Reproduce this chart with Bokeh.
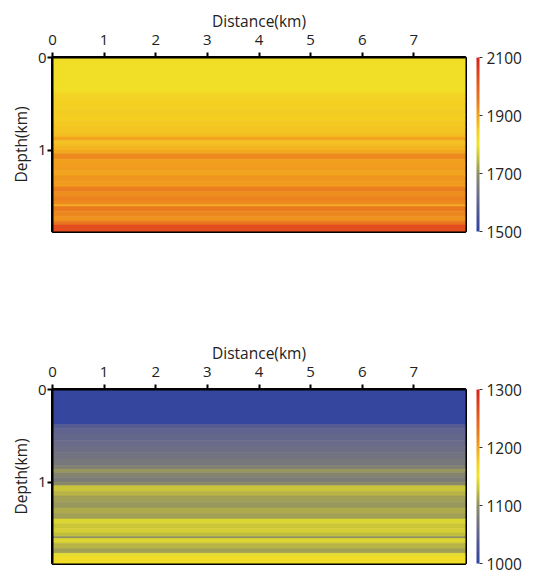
from bokeh.plotting import figure
from bokeh.models import Range1d, LinearColorMapper, ColorBar, FixedTicker, ColumnDataSource
from bokeh.layouts import column
from bokeh.transform import linear_cmap
from bokeh.embed import file_html
from bokeh.resources import INLINE

# ---- data ----
distance_extent_km = [0.0, 8.0]
max_depth_km = 1.88

layer_top_km = [0.00, 0.38, 0.42, 0.48, 0.55, 0.62, 0.68, 0.75, 0.82, 0.86, 0.90,
                0.95, 1.00, 1.04, 1.10, 1.15, 1.22, 1.28, 1.34, 1.40, 1.45,
                1.50, 1.55, 1.59, 1.61, 1.66, 1.72, 1.77, 1.81]

vel_top = [1815, 1835, 1840, 1845, 1850, 1848, 1855, 1860, 1870, 1900, 1865,
           1880, 1895, 1930, 1905, 1910, 1900, 1915, 1910, 1945, 1925,
           1940, 1930, 1890, 1950, 1935, 1920, 1960, 2030]

vel_bottom = [1005, 1040, 1050, 1055, 1060, 1065, 1070, 1075, 1085, 1105, 1090,
              1080, 1095, 1130, 1120, 1110, 1105, 1115, 1110, 1140, 1130,
              1135, 1125, 1100, 1140, 1120, 1110, 1145, 1160]

x_ticks = [0, 1, 2, 3, 4, 5, 6, 7]
y_ticks = [0, 1]
cbar_top_ticks = [1500, 1700, 1900, 2100]
cbar_bottom_ticks = [1000, 1100, 1200, 1300]
range_top = (1500, 2100)
range_bottom = (1000, 1300)

# ---- colormap (blue -> gray -> yellow -> orange -> red) ----
anchors = [(0.00, "#3043a0"), (0.10, "#4c5594"), (0.20, "#6a6b8a"),
           (0.33, "#8c8c66"), (0.42, "#c4c03c"), (0.50, "#efe52a"),
           (0.58, "#f4cf22"), (0.667, "#f2a41e"), (0.75, "#ea7a1e"),
           (0.86, "#e4561e"), (1.00, "#d8201e")]


def hex2rgb(h):
    return tuple(int(h[i:i + 2], 16) for i in (1, 3, 5))


palette = []
for i in range(256):
    f = i / 255
    for (f0, c0), (f1, c1) in zip(anchors[:-1], anchors[1:]):
        if f0 <= f <= f1:
            t = (f - f0) / (f1 - f0)
            a, b = hex2rgb(c0), hex2rgb(c1)
            rgb = [round(a[k] + (b[k] - a[k]) * t) for k in range(3)]
            palette.append("#%02x%02x%02x" % tuple(rgb))
            break

FONT = "Open Sans"


def make_panel(values, vrange, cticks, height, border_top, border_bottom):
    bottoms = layer_top_km[1:] + [max_depth_km]
    src = ColumnDataSource(dict(
        top=layer_top_km, bottom=bottoms,
        left=[distance_extent_km[0]] * len(layer_top_km),
        right=[distance_extent_km[1]] * len(layer_top_km),
        v=values))
    p = figure(width=540, height=height, output_backend="svg", toolbar_location=None,
               x_range=Range1d(*distance_extent_km), y_range=Range1d(max_depth_km, 0),
               x_axis_location="above", min_border_left=52, min_border_top=border_top,
               min_border_bottom=border_bottom, min_border_right=75)
    cmap = linear_cmap("v", palette, vrange[0], vrange[1])
    p.quad(left="left", right="right", top="top", bottom="bottom", source=src,
           fill_color=cmap, line_color=cmap, line_width=0.6)
    p.grid.visible = False
    p.outline_line_color = "black"
    p.outline_line_width = 3
    p.outline_line_alpha = 1
    p.background_fill_color = None
    p.border_fill_color = "white"
    for ax in (p.xaxis[0], p.yaxis[0]):
        ax.minor_tick_line_color = None
        ax.major_tick_line_color = "black"
        ax.major_tick_line_width = 2
        ax.major_tick_out = 5
        ax.major_tick_in = 0
        ax.axis_line_color = "black"
        ax.axis_line_width = 2
        ax.major_label_text_font = FONT
        ax.major_label_text_font_size = "15px"
        ax.major_label_text_color = "#222222"
        ax.axis_label_text_font = FONT
        ax.axis_label_text_font_size = "15.5px"
        ax.axis_label_text_font_style = "normal"
        ax.axis_label_text_color = "#222222"
    p.xaxis.ticker = FixedTicker(ticks=x_ticks)
    p.yaxis.ticker = FixedTicker(ticks=y_ticks)
    p.xaxis.axis_label = "Distance(km)"
    p.yaxis.axis_label = "Depth(km)"
    p.xaxis.major_label_standoff = 8
    p.yaxis.major_label_standoff = 1
    p.xaxis.axis_label_standoff = 0
    p.yaxis.axis_label_standoff = 3

    mapper = LinearColorMapper(palette=palette, low=vrange[0], high=vrange[1])
    cb = ColorBar(color_mapper=mapper, width=3, padding=0, margin=0,
                  location=(11, 0),
                  ticker=FixedTicker(ticks=cticks),
                  major_tick_in=0, major_tick_out=3, major_tick_line_color="#333333",
                  major_label_text_font=FONT, major_label_text_font_size="15.5px",
                  major_label_text_color="#222222", label_standoff=4,
                  bar_line_color=None, background_fill_color=None,
                  border_line_color=None)
    p.add_layout(cb, "right")
    return p


p1 = make_panel(vel_top, range_top, cbar_top_ticks, 332, 57, 101)
p2 = make_panel(vel_bottom, range_bottom, cbar_bottom_ticks, 241, 57, 10)
layout = column(p1, p2, spacing=0)

open("out.html", "w").write(file_html(layout, INLINE))
